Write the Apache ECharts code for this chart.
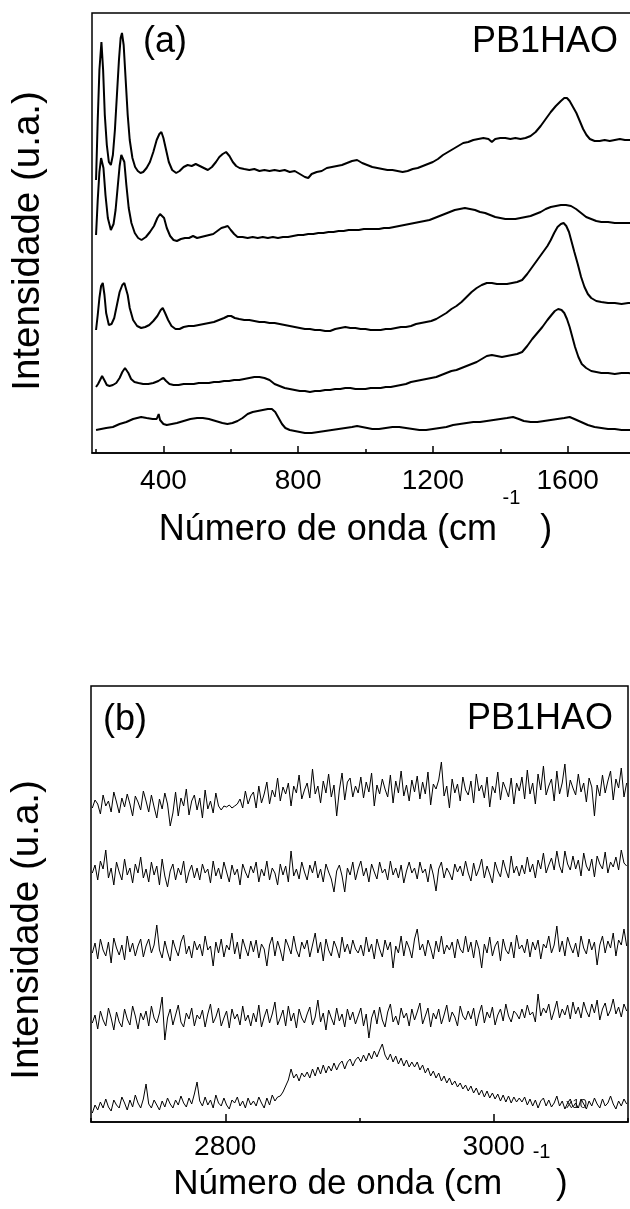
<!DOCTYPE html>
<html>
<head>
<meta charset="UTF-8">
<title>Raman PB1HAO</title>
<script src="https://cdn.jsdelivr.net/npm/echarts@6/dist/echarts.min.js"></script>
<style>
body { margin:0; padding:0; border:0; background:#fff; }
</style>
</head>
<body>
<div id="main" style="width:630px;height:1209px;"></div>
<script>
// painel (a): 200-1800 cm-1, cinco espectros deslocados (u.a.)
var a1 = [[200,273],[205,333],[210,383],[216,411],[221,383],[226,338],[232,308],[238,291],[244,288],[250,298],[256,323],[262,358],[268,393],[273,415],[277,420],[282,408],[288,373],[294,338],[300,313],[308,295],[316,286],[324,282],[332,280],[340,281],[350,285],[360,291],[370,301],[380,313],[388,319],[394,321],[400,315],[408,303],[416,291],[426,283],[438,280],[448,282],[460,286],[472,288],[484,287],[496,289],[508,287],[520,285],[532,283],[544,286],[556,291],[566,296],[576,299],[586,301],[596,297],[606,291],[616,287],[626,285],[640,284],[655,283],[670,284],[685,282],[700,283],[715,282],[730,283],[745,282],[760,283],[775,281],[790,282],[805,279],[820,276],[830,275],[840,279],[855,281],[870,282],[885,285],[900,286],[915,287],[930,288],[945,290],[960,292],[975,293],[990,290],[1005,288],[1020,286],[1035,285],[1050,284],[1065,283],[1080,283],[1095,282],[1110,281],[1125,282],[1140,284],[1155,285],[1170,287],[1185,289],[1200,291],[1215,294],[1230,298],[1245,301],[1260,304],[1275,307],[1290,310],[1305,311],[1320,313],[1335,314],[1350,315],[1365,314],[1375,311],[1385,314],[1400,315],[1415,315],[1430,314],[1445,315],[1460,314],[1475,315],[1490,317],[1505,321],[1520,327],[1535,334],[1550,341],[1565,347],[1580,352],[1590,355],[1598,355],[1606,352],[1616,346],[1626,340],[1636,332],[1646,324],[1656,318],[1666,314],[1680,312],[1695,312],[1710,313],[1725,312],[1740,313],[1755,314],[1770,313],[1785,313],[1800,313]];
var a2 = [[200,218],[205,253],[210,281],[215,295],[218,297],[222,285],[228,258],[235,235],[244,223],[252,229],[258,243],[264,265],[270,287],[275,298],[279,300],[284,291],[290,268],[297,245],[305,230],[315,220],[325,215],[335,213],[348,216],[360,221],[372,227],[382,235],[390,239],[395,240],[402,235],[410,225],[420,217],[430,213],[440,212],[452,214],[464,215],[476,215],[488,217],[500,215],[512,216],[524,217],[536,218],[548,219],[560,222],[572,225],[582,226],[591,227],[600,223],[610,219],[620,216],[635,216],[650,215],[665,216],[680,215],[695,216],[710,215],[725,216],[740,215],[755,216],[770,216],[785,217],[800,218],[815,218],[830,219],[845,219],[860,220],[875,220],[890,221],[905,221],[920,222],[935,222],[950,223],[965,223],[980,223],[995,224],[1010,224],[1025,224],[1040,224],[1055,225],[1070,225],[1085,226],[1100,227],[1115,228],[1130,229],[1145,230],[1160,231],[1175,232],[1190,233],[1205,235],[1220,237],[1235,239],[1250,241],[1265,243],[1280,244],[1295,245],[1310,244],[1325,243],[1340,241],[1355,240],[1370,238],[1385,236],[1400,235],[1415,234],[1430,234],[1445,234],[1460,235],[1475,236],[1490,237],[1505,239],[1520,241],[1535,244],[1550,246],[1565,247],[1580,248],[1595,248],[1610,247],[1625,244],[1640,240],[1655,236],[1670,234],[1685,232],[1700,231],[1720,231],[1740,230],[1760,230],[1780,230],[1800,230]];
var a3 = [[200,123],[205,138],[210,155],[215,167],[220,170],[225,158],[230,140],[238,128],[246,129],[254,135],[262,148],[270,161],[278,168],[284,170],[288,169],[294,158],[300,145],[310,133],[322,127],[334,125],[346,126],[358,128],[370,132],[382,137],[392,143],[398,145],[405,140],[414,133],[424,127],[436,124],[448,124],[460,126],[475,127],[490,127],[505,128],[520,129],[535,130],[550,131],[565,133],[580,135],[592,137],[601,137],[612,135],[625,134],[640,133],[655,133],[670,132],[685,131],[700,131],[715,130],[730,130],[745,129],[760,128],[775,127],[790,126],[805,125],[820,124],[835,124],[850,123],[865,123],[880,122],[895,122],[910,124],[925,125],[940,126],[955,125],[970,125],[985,124],[1000,124],[1015,123],[1030,123],[1045,123],[1060,124],[1075,124],[1090,125],[1105,126],[1120,126],[1135,127],[1150,129],[1165,130],[1180,131],[1195,132],[1210,134],[1225,137],[1240,140],[1255,144],[1270,147],[1285,151],[1300,156],[1315,161],[1330,165],[1345,168],[1360,170],[1375,170],[1390,169],[1405,169],[1420,169],[1435,170],[1450,171],[1465,173],[1480,179],[1495,186],[1510,193],[1525,200],[1540,207],[1550,213],[1560,220],[1570,226],[1580,229],[1588,230],[1596,227],[1604,221],[1612,211],[1620,201],[1630,189],[1640,176],[1650,166],[1660,159],[1670,155],[1685,152],[1700,151],[1720,150],[1740,150],[1760,149],[1780,150],[1800,150]];
var a4 = [[200,66],[206,69],[212,73],[218,77],[222,77],[226,72],[232,68],[240,67],[250,68],[260,70],[270,75],[278,81],[286,85],[290,85],[296,80],[304,74],[314,71],[326,70],[340,69],[355,69],[370,70],[385,72],[394,74],[400,75],[408,72],[418,69],[430,68],[445,68],[460,69],[475,69],[490,69],[505,70],[520,70],[535,70],[550,71],[565,71],[580,72],[595,72],[610,73],[625,73],[640,74],[655,75],[670,76],[685,76],[700,75],[715,73],[730,69],[745,67],[760,65],[775,64],[790,63],[805,62],[820,62],[835,61],[850,62],[865,62],[880,63],[895,63],[910,64],[925,64],[940,65],[955,65],[970,64],[985,64],[1000,64],[1015,65],[1030,65],[1045,65],[1060,66],[1075,66],[1090,67],[1105,68],[1120,69],[1135,71],[1150,72],[1165,73],[1180,74],[1195,75],[1210,76],[1225,78],[1240,80],[1255,82],[1270,83],[1285,85],[1300,87],[1315,89],[1330,91],[1345,94],[1360,97],[1375,98],[1390,97],[1405,96],[1420,97],[1435,98],[1450,99],[1465,101],[1480,107],[1495,114],[1510,120],[1525,126],[1540,133],[1552,138],[1562,142],[1572,144],[1582,143],[1590,140],[1598,134],[1606,126],[1614,116],[1622,106],[1632,96],[1642,89],[1655,85],[1670,82],[1685,81],[1700,80],[1720,80],[1740,79],[1760,80],[1780,80],[1800,79]];
var a5 = [[200,23],[215,24],[230,25],[250,26],[270,29],[290,31],[310,34],[334,36],[350,35],[368,34],[380,34],[386,39],[390,33],[400,29],[410,28],[425,29],[440,30],[460,32],[480,34],[500,35],[517,35],[535,34],[555,32],[575,30],[590,29],[605,30],[620,32],[635,35],[650,39],[665,41],[680,42],[695,43],[710,44],[722,44],[732,41],[742,35],[752,29],[762,25],[775,23],[790,22],[805,21],[820,20],[840,20],[860,21],[880,22],[900,23],[920,24],[940,25],[960,26],[975,27],[990,26],[1005,25],[1020,24],[1040,24],[1060,25],[1080,26],[1100,26],[1120,25],[1140,24],[1160,23],[1180,23],[1200,24],[1220,25],[1240,26],[1260,28],[1280,29],[1300,30],[1320,31],[1340,31],[1360,32],[1380,33],[1400,34],[1420,35],[1438,36],[1455,34],[1470,32],[1490,31],[1510,31],[1530,32],[1550,33],[1570,34],[1590,35],[1606,36],[1620,34],[1640,31],[1660,28],[1680,26],[1700,25],[1720,24],[1740,24],[1760,23],[1780,23],[1800,23]];

// painel (b): 2700-3100 cm-1, pontos a cada 2 cm-1
var xB = [2701,2703,2705,2707,2709,2711,2713,2715,2717,2719,2721,2723,2725,2727,2729,2731,2733,2735,2737,2739,
          2741,2743,2745,2747,2749,2751,2753,2755,2757,2759,2761,2763,2765,2767,2769,2771,2773,2775,2777,2779,
          2781,2783,2785,2787,2789,2791,2793,2795,2797,2799,2801,2803,2805,2807,2809,2811,2813,2815,2817,2819,
          2821,2823,2825,2827,2829,2831,2833,2835,2837,2839,2841,2843,2845,2847,2849,2851,2853,2855,2857,2859,
          2861,2863,2865,2867,2869,2871,2873,2875,2877,2879,2881,2883,2885,2887,2889,2891,2893,2895,2897,2899,
          2901,2903,2905,2907,2909,2911,2913,2915,2917,2919,2921,2923,2925,2927,2929,2931,2933,2935,2937,2939,
          2941,2943,2945,2947,2949,2951,2953,2955,2957,2959,2961,2963,2965,2967,2969,2971,2973,2975,2977,2979,
          2981,2983,2985,2987,2989,2991,2993,2995,2997,2999,3001,3003,3005,3007,3009,3011,3013,3015,3017,3019,
          3021,3023,3025,3027,3029,3031,3033,3035,3037,3039,3041,3043,3045,3047,3049,3051,3053,3055,3057,3059,
          3061,3063,3065,3067,3069,3071,3073,3075,3077,3079,3081,3083,3085,3087,3089,3091,3093,3095,3097,3099];
var b1 = [314,322,318,308,327,316,321,310,330,320,309,324,315,328,318,306,326,320,312,331,
          321,310,327,315,304,323,313,329,318,296,309,330,306,324,316,333,307,321,327,312,
          324,304,332,313,321,309,329,316,312,316,315,317,314,316,318,323,314,331,318,326,
          330,314,336,319,328,340,318,332,325,344,321,335,328,339,316,336,329,347,323,332,
          339,324,353,328,336,319,341,329,348,325,337,306,332,349,322,340,344,325,336,329,
          345,324,340,330,349,316,337,328,343,333,325,347,319,341,329,351,326,337,321,342,
          330,346,323,340,328,350,317,338,333,342,360,326,336,314,343,329,338,321,345,332,
          327,341,319,348,331,337,324,345,315,336,329,350,322,340,333,325,344,318,339,331,
          345,323,352,328,339,318,348,332,356,327,336,343,321,351,328,339,358,325,342,334,
          327,348,330,339,320,344,335,306,337,326,347,329,341,351,322,343,334,354,325,339];
var b2 = [249,257,242,261,253,272,244,254,237,260,250,242,263,247,254,239,258,249,265,244,
          253,240,260,247,256,237,263,246,235,251,258,242,254,247,261,239,250,257,244,254,
          242,258,249,253,239,261,246,254,243,260,250,240,257,247,253,237,258,250,244,256,
          249,260,240,253,246,261,242,254,249,237,258,247,256,240,271,246,253,243,260,250,
          242,257,249,261,244,253,240,258,250,243,230,251,257,246,230,254,247,260,242,253,
          261,246,254,240,258,250,243,260,249,253,242,261,247,254,244,257,239,251,260,249,
          254,243,260,249,253,240,258,247,231,253,260,244,254,249,242,258,250,256,246,261,
          249,241,259,246,253,263,244,256,248,239,260,251,245,262,252,244,266,249,256,246,
          257,248,265,250,258,244,262,253,269,249,257,264,252,271,256,249,271,258,252,266,
          253,262,246,269,256,251,263,245,266,258,253,270,249,260,255,265,252,272,259,256];
var b3 = [169,179,163,183,172,166,180,159,184,174,167,177,162,186,170,179,166,176,183,165,
          176,183,169,177,197,172,164,181,170,161,182,173,166,180,187,168,176,164,181,172,
          178,166,186,172,176,156,180,169,183,165,177,172,189,168,180,163,183,174,166,181,
          170,182,164,178,173,156,177,185,166,181,172,161,183,176,168,186,172,165,180,173,
          182,165,177,189,169,180,161,183,172,166,181,174,164,185,170,178,168,182,173,169,
          177,166,185,170,178,163,183,173,165,182,172,180,154,176,169,186,166,181,174,164,
          183,193,172,178,166,182,174,163,181,170,186,168,177,172,180,164,183,173,169,186,
          170,180,164,182,173,154,178,169,185,166,176,181,161,183,172,168,180,164,187,173,
          177,169,183,165,180,172,182,163,178,174,186,169,177,196,170,181,166,185,176,169,
          179,165,186,174,168,183,172,180,157,177,186,169,181,174,189,166,182,177,193,176];
var b4 = [99,107,93,111,102,96,114,104,92,110,100,95,113,103,97,116,106,93,109,102,
          111,96,116,104,99,109,125,82,104,113,97,107,117,100,95,109,103,114,96,107,
          103,112,95,108,118,99,105,114,96,104,111,94,113,103,108,97,116,101,107,96,
          109,100,117,95,105,113,99,108,120,97,104,112,96,116,101,109,94,113,104,99,
          108,115,97,105,122,100,109,92,112,104,97,114,101,108,95,113,102,110,98,106,
          114,96,108,84,104,112,98,115,102,95,110,118,100,106,97,114,104,109,96,113,
          102,110,119,98,106,114,95,109,103,113,98,107,117,100,110,105,96,116,106,102,
          111,103,114,96,108,117,99,110,104,115,97,107,113,101,118,106,100,111,108,103,
          113,104,117,107,110,100,128,106,114,109,118,102,111,121,104,113,107,117,103,120,
          108,115,104,120,111,105,118,109,122,102,113,119,106,112,123,108,115,105,118,111];
var b5 = [9,17,12,20,14,23,15,11,22,17,14,25,19,12,22,15,27,19,14,23,
          38,18,14,22,17,12,21,15,24,18,14,22,17,26,19,15,24,18,28,40,
          21,16,25,17,22,14,27,19,16,24,17,13,22,19,25,16,21,14,24,17,
          21,16,25,19,14,24,17,27,21,25,26,30,36,42,53,44,48,41,49,45,
          50,44,53,46,55,48,57,49,56,51,59,52,58,61,53,60,63,56,62,65,
          60,67,61,69,63,71,65,72,78,67,62,68,60,66,58,64,56,62,55,60,
          55,60,52,57,49,54,46,51,44,49,41,46,39,44,37,41,35,39,33,37,
          31,36,29,34,27,32,25,31,24,29,23,28,21,27,20,26,19,25,20,24,
          20,25,17,23,16,22,14,21,24,16,22,15,19,26,16,21,13,19,23,15,
          19,14,23,18,13,21,16,24,18,14,23,16,19,26,18,13,21,16,23,18];

var labelsA = [400, 800, 1200, 1600];
var minorA = [200, 600, 1000, 1400, 1800];
var labelsB = [2800, 3000];
var minorB = [2700, 2900, 3100];

var FONT = 'Liberation Sans, Arial, Helvetica, sans-serif';

function pairs(xs, ys) {
    var out = [];
    for (var i = 0; i < ys.length; i++) out.push([xs[i], ys[i]]);
    return out;
}
function plain(v) { return String(v); }

var myChart = echarts.init(document.getElementById('main'), null, {renderer: 'canvas'});

var yTitle = {
    type: 'value', min: 0, name: 'Intensidade (u.a.)', nameLocation: 'middle',
    axisLine: {show: false}, axisTick: {show: false}, axisLabel: {show: false}, splitLine: {show: false}
};

var option = {
    backgroundColor: '#fff',
    animation: false,
    textStyle: {fontFamily: FONT},
    grid: [
        {left: 92, top: 13, right: -5, height: 440, show: true, borderColor: '#000', borderWidth: 1.5, outerBoundsMode: 'none'},
        {left: 91, top: 686, right: 2, height: 436, show: true, borderColor: '#000', borderWidth: 1.5, outerBoundsMode: 'none'}
    ],
    xAxis: [
        {
            type: 'value', gridIndex: 0, min: 188, max: 1800, position: 'bottom',
            name: 'Número de onda (cm{s| -1}  )', nameLocation: 'middle', nameGap: 35, nameMoveOverlap: false,
            nameTextStyle: {fontSize: 36, color: '#000', fontFamily: FONT, lineHeight: 84,
                padding: [0, 16, 0, 0],
                rich: {s: {fontSize: 20, lineHeight: 20, verticalAlign: 'top', fontFamily: FONT}}},
            axisLine: {lineStyle: {color: '#000', width: 1.5}},
            axisTick: {inside: true, length: 7, lineStyle: {color: '#000', width: 1.5}, customValues: labelsA},
            axisLabel: {customValues: labelsA, formatter: plain, fontSize: 28, color: '#000', margin: 14, fontFamily: FONT},
            splitLine: {show: false}
        },
        {
            type: 'value', gridIndex: 0, min: 188, max: 1800, position: 'bottom',
            axisLine: {show: false},
            axisTick: {inside: true, length: 4, lineStyle: {color: '#000', width: 1.5}, customValues: minorA},
            axisLabel: {show: false}, splitLine: {show: false}
        },
        {
            type: 'value', gridIndex: 1, min: 2700, max: 3100, position: 'bottom',
            name: 'Número de onda (cm  {s|  -1 })', nameLocation: 'middle', nameGap: 20, nameMoveOverlap: false,
            nameTextStyle: {fontSize: 35, color: '#000', fontFamily: FONT, lineHeight: 84,
                padding: [0, 0, 0, 22],
                rich: {s: {fontSize: 20, lineHeight: 20, verticalAlign: 'top', fontFamily: FONT}}},
            axisLine: {lineStyle: {color: '#000', width: 1.5}},
            axisTick: {inside: true, length: 8, lineStyle: {color: '#000', width: 1.5}, customValues: labelsB},
            axisLabel: {customValues: labelsB, formatter: plain, fontSize: 28, color: '#000', margin: 11, fontFamily: FONT},
            splitLine: {show: false}
        },
        {
            type: 'value', gridIndex: 1, min: 2700, max: 3100, position: 'bottom',
            axisLine: {show: false},
            axisTick: {inside: true, length: 4, lineStyle: {color: '#000', width: 1.5}, customValues: minorB},
            axisLabel: {show: false}, splitLine: {show: false}
        }
    ],
    yAxis: [
        echarts.util.merge({gridIndex: 0, max: 440, nameGap: 44,
            nameTextStyle: {fontSize: 38.5, color: '#000', fontFamily: FONT, padding: [0, 16, 0, 0]}}, yTitle),
        echarts.util.merge({gridIndex: 1, max: 436, nameGap: 44,
            nameTextStyle: {fontSize: 38.5, color: '#000', fontFamily: FONT, padding: [0, 52, 0, 0]}}, yTitle)
    ],
    graphic: [
        {type: 'text', x: 143, y: 42, style: {text: '(a)', font: '36px ' + FONT, fill: '#000', align: 'left', verticalAlign: 'middle'}},
        {type: 'text', x: 618, y: 42, style: {text: 'PB1HAO', font: '36px ' + FONT, fill: '#000', align: 'right', verticalAlign: 'middle'}},
        {type: 'text', x: 103, y: 720, style: {text: '(b)', font: '36px ' + FONT, fill: '#000', align: 'left', verticalAlign: 'middle'}},
        {type: 'text', x: 613, y: 719, style: {text: 'PB1HAO', font: '36px ' + FONT, fill: '#000', align: 'right', verticalAlign: 'middle'}},
        {type: 'text', x: 566, y: 1104, style: {text: 'x10', font: '13px ' + FONT, fill: '#222', align: 'left', verticalAlign: 'middle'}}
    ],
    series: []
};

[a1, a2, a3, a4, a5].forEach(function (d) {
    option.series.push({type: 'line', xAxisIndex: 0, yAxisIndex: 0, data: d, showSymbol: false,
        lineStyle: {color: '#000', width: 2}});
});
[b1, b2, b3, b4, b5].forEach(function (d) {
    option.series.push({type: 'line', xAxisIndex: 2, yAxisIndex: 1, data: pairs(xB, d), showSymbol: false,
        lineStyle: {color: '#000', width: 1}});
});

myChart.setOption(option);
</script>
</body>
</html>
